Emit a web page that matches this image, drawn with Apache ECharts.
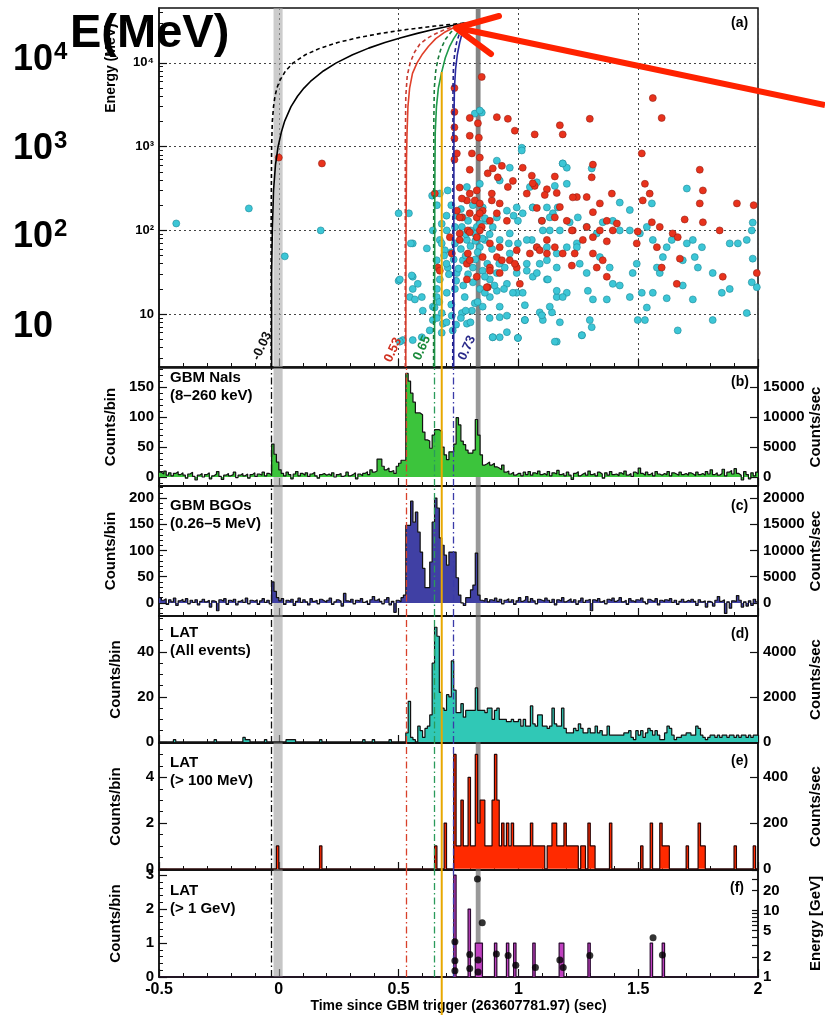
<!DOCTYPE html>
<html>
<head>
<meta charset="utf-8">
<script src="https://cdn.jsdelivr.net/npm/echarts@6/dist/echarts.min.js"></script>
<style>
html,body{margin:0;padding:0;background:#fff;}
#fig{width:825px;height:1015px;}
</style>
</head>
<body>
<div id="fig"></div>
<script>
// ---- data ----
var binStart = -0.5, binWidth = 0.01;   // 0.01 s bins, -0.5 .. 2.0

// GBM NaI counts/bin
var nai = [
  8, 5, 10, 3, 7, 2, 6, 9, 4, 7,        // -0.5
  3, -2, 5, 8, 1, -5, 3, 6, 0, 4,       // -0.4
  7, -3, 2, 5, 9, 1, -4, 3, 6, 2,       // -0.3
  4, 8, -1, 3, 6, 2, 5, -2, 4, 7,       // -0.2
  1, 5, 3, 8, 2, 6, 4, 55, 38, 25,      // -0.1
  12, 6, 2, 8, 4, -3, 5, 9, 2, 6,       // 0.0
  3, 7, 1, 5, 8, 2, -2, 4, 6, 3,        // 0.1
  5, 2, 7, 0, 4, 6, 1, 3, 8, 2,         // 0.2
  4, 7, -3, 5, 2, 6, 9, 4, 12, 8,       // 0.3
  10, 30, 30, 18, 12, 15, 9, 11, 6, 18, // 0.4
  23, 28, 28, 173, 160, 140, 125, 107, 107, 104, // 0.5
  75, 62, 60, 48, 70, 79, 79, 76, 50, 37,        // 0.6
  29, 42, 42, 55, 99, 87, 60, 54, 45, 40,        // 0.7
  40, 45, 96, 70, 37, 20, 22, 25, 20, 23,        // 0.8
  17, 15, 12, 20, 8, 10, 5, 8, 3, 6,    // 0.9
  6, 2, 8, 4, 9, 3, 7, 5, 10, 4,        // 1.0
  6, 3, 9, 2, 7, 5, 11, 4, 6, 2,        // 1.1
  8, 3, -4, 6, 9, 2, 5, 7, 3, 10,       // 1.2
  4, 6, 2, 8, 5, -2, 7, 3, 9, 4,        // 1.3
  5, 2, 7, 4, 10, 3, 6, 1, 8, 5,        // 1.4
  15, 6, 3, 8, 4, 7, 2, 9, 5, 3,        // 1.5
  6, 4, 9, 2, 7, 5, 3, 8, 4, 6,         // 1.6
  3, 7, 5, 2, 8, 4, 6, 3, 9, 5,         // 1.7
  12, 4, 7, 3, 6, 13, 2, 8, 11, 5,      // 1.8
  14, 6, 3, -5, 9, 4, -3, 7, 2, 8       // 1.9
];

// GBM BGO counts/bin
var bgo = [
  10, 5, 8, -3, 6, 2, 9, -5, 4, 7,      // -0.5
  3, 8, -2, 5, 1, 6, -4, 3, 7, 2,       // -0.4
  5, -8, 4, 2, -15, 6, 3, 8, -3, 5,     // -0.3
  2, 7, -4, 3, 6, 1, 9, -2, 5, 3,       // -0.2
  6, -3, 4, 8, 1, 5, -2, 40, 22, 10,    // -0.1
  4, 8, -3, 5, 2, 7, -5, 3, 9, 1,       // 0.0
  6, 2, -4, 8, 3, 5, -2, 7, 4, 1,       // 0.1
  5, 9, -3, 2, 6, 3, -6, 18, 4, 2,      // 0.2
  7, -2, 5, 3, 8, 1, 4, -3, 6, 12,      // 0.3
  5, 8, 3, -2, 6, 10, -4, 3, -18, 5,    // 0.4
  2, 10, 15, 148, 148, 194, 154, 173, 135, 97,   // 0.5
  66, 29, 29, 78, 154, 200, 181, 124, 110, 91,   // 0.6
  72, 97, 97, 97, 48, 15, 0, -5, 10, 10,         // 0.7
  25, 34, 95, 15, 5, 3, 8, 2, 6, 4,     // 0.8
  9, 3, 7, -2, 5, 8, 2, 6, -3, 4,       // 0.9
  10, 3, 6, 12, 2, 8, 4, -2, 7, 5,      // 1.0
  3, 9, 5, 1, 7, -4, 6, 3, 10, 2,       // 1.1
  5, 8, 2, 6, -3, 4, 9, 1, 5, 7,        // 1.2
  -15, 6, 3, 8, 2, 5, -2, 7, 4, 9,      // 1.3
  3, 6, 10, 2, 5, -3, 8, 4, 1, 6,       // 1.4
  5, 9, 2, -2, 7, 4, 3, 8, -4, 5,       // 1.5
  2, 6, 4, 8, 1, 5, -3, 3, 7, 2,        // 1.6
  5, 2, 7, 3, -5, 6, 2, 4, -8, 3,       // 1.7
  1, -6, 5, 12, 3, 6, -20, 2, -10, 4,   // 1.8
  3, 14, 5, -8, 2, -6, 4, -5, 7, 2      // 1.9
];

// LAT all events counts/bin
var latAll = [
  0,0,0,0,0,0,1,0,0,0,   // -0.5
  0,0,0,0,0,0,0,0,0,0,   // -0.4
  0,0,0,1,0,0,0,0,0,0,   // -0.3
  0,0,0,0,0,2,1,1,0,0,   // -0.2
  0,0,0,0,1,0,0,0,0,0,   // -0.1
  0,0,0,1,1,1,1,0,0,0,   // 0.0
  0,0,0,0,0,0,0,1,0,0,   // 0.1
  0,0,0,0,0,0,0,0,0,0,   // 0.2
  0,0,0,0,0,1,0,0,0,1,   // 0.3
  0,0,0,0,0,0,1,0,0,0,   // 0.4
  0,0,0,4,18,2,1,0,7,5,  // 0.5
  2,6,7,12,35,51,47,22,15,14,   // 0.6
  21,20,36,23,13,13,17,11,14,14,// 0.7
  14,14,24,14,14,14,13,15,15,10,// 0.8
  14,15,10,10,10,9,9,10,9,9,    // 0.9
  10,7,10,7,7,16,8,7,12,12,     // 1.0
  7,7,6,7,15,8,7,7,15,6,        // 1.1
  4,4,4,6,5,8,6,4,4,6,          // 1.2
  4,4,7,4,5,3,3,7,3,3,          // 1.3
  3,3,3,3,4,4,5,2,1,5,          // 1.4
  3,5,2,4,6,5,3,5,3,1,          // 1.5
  1,4,7,6,3,1,2,2,3,3,          // 1.6
  4,4,3,3,7,6,3,2,1,2,          // 1.7
  3,3,2,3,2,3,3,2,3,3,          // 1.8
  2,3,2,3,3,2,3,2,3,3           // 1.9
];

// LAT > 100 MeV, non-empty bins [bin start (s), counts]
var lat100 = [
  [-0.01,1],[0.17,1],[0.65,1],[0.69,2],
  [0.73,5],[0.74,1],[0.75,1],[0.76,3],[0.77,1],[0.78,1],[0.79,4],
  [0.80,1],[0.81,1],[0.82,5],[0.83,2],[0.84,3],[0.85,3],[0.86,1],[0.87,1],[0.88,1],[0.89,3],
  [0.90,5],[0.91,3],[0.92,1],[0.93,2],[0.94,1],[0.95,2],[0.96,1],[0.97,2],[0.98,1],[0.99,1],
  [1.00,1],[1.01,1],[1.02,1],[1.03,1],[1.04,1],[1.05,2],[1.06,1],[1.07,1],[1.08,1],[1.09,1],
  [1.10,1],[1.12,1],[1.13,1],[1.14,2],[1.15,2],[1.16,1],[1.17,1],[1.18,1],[1.19,2],
  [1.20,1],[1.21,1],[1.22,1],[1.23,1],[1.24,1],[1.26,1],[1.27,1],[1.29,2],
  [1.30,1],[1.31,1],[1.38,2],[1.51,1],[1.55,2],[1.59,2],[1.60,1],[1.61,1],[1.62,1],
  [1.70,1],[1.75,2],[1.76,1],[1.77,1],[1.90,1],[1.98,1]
];

// LAT > 1 GeV, non-empty bins [bin start (s), counts]
var lat1g = [
  [0.73,3],[0.79,2],[0.82,1],[0.83,1],[0.84,1],[0.90,1],[0.95,1],[0.98,1],
  [1.06,1],[1.17,1],[1.18,1],[1.29,1],[1.55,1],[1.60,1]
];

// > 1 GeV photon energies [t (s), E (GeV)]
var gevPhotons = [
  [0.735,3.4],[0.735,1.76],[0.735,1.24],[0.797,2.18],[0.797,1.34],[0.829,30],[0.849,6.6],
  [0.832,1.8],[0.832,1.19],[0.908,2.23],[0.957,2.1],[0.989,1.5],[1.071,1.39],[1.173,1.8],
  [1.187,1.39],[1.298,2.1],[1.562,3.9],[1.601,2.15]
];

// LAT events [t (s), E (MeV)] - panel (a)
var cyanEvents = [
  [-0.428,121],[-0.125,183],[0.025,49],[0.175,100],[0.5,160],[0.559,70],[0.5,25],[0.559,28],[0.559,20],[0.518,4.9],
  [0.847,2550],[0.818,2480],[1.014,970],[1.185,630],[1.306,550],[1.703,316],[1.557,210],[1.465,175],[1.423,215],[1.978,124],
  [1.974,100],[1.882,70],[1.916,70],[1.953,77],[1.978,46],[1.995,21],[1.974,24],[1.953,10.3],[1.811,8.5],[1.849,18],
  [1.882,20],[1.811,31],[1.703,70],[1.736,48],[1.749,36],[1.686,22],[1.728,15],[1.665,6.4],[1.619,15.5],[1.561,18],
  [1.603,48],[1.619,63],[1.59,31],[1.536,12],[1.498,8.5],[1.465,16],[1.477,31],[1.494,40],[1.507,92],[1.465,100],
  [1.423,100],[1.394,130],[1.352,125],[1.327,92],[1.285,110],[1.34,48],[1.381,36],[1.394,23],[1.423,22],[1.369,15],
  [1.311,15],[1.298,8.5],[1.306,7],[1.265,5.6],[1.29,19],[1.285,31],[1.256,40],[1.244,70],[1.202,63],[1.173,100],
  [1.131,100],[1.102,100],[1.144,160],[1.119,188],[1.06,188],[1.048,330],[0.993,188],[0.998,130],[1.056,77],[1.119,63],
  [1.089,40],[1.16,36],[1.119,26],[1.16,16],[1.202,18],[1.14,10.5],[1.173,8],[1.16,4.7],[1.089,10.5],[1.102,8.5],
  [1.027,8.5],[0.998,5.2],[0.952,6.1],[0.993,18],[1.027,12.8],[0.922,9.2],[0.893,5.3],[0.91,19],[0.952,23],[1.06,28],
  [1.035,40],[0.964,53],[1.202,560],[1.152,340],[1.077,375],[1.686,44],[1.728,77],[1.766,63],[1.64,77],[1.561,77],
  [1.536,110],[1.578,36],[1.515,18],[1.528,8.5],[0.922,5.3],[0.839,2700],[0.543,160],[0.551,70],[0.505,26],[0.555,29],
  [0.618,61],[0.58,23],[0.597,16],[0.547,16],[0.643,100],[0.672,77],[0.659,44],[0.693,58],[0.735,70],[0.764,110],
  [0.785,77],[0.818,92],[0.839,63],[0.86,77],[0.893,110],[0.922,77],[0.964,92],[0.998,70],[1.035,77],[1.077,63],
  [0.705,36],[0.743,31],[0.768,44],[0.81,36],[0.851,33],[0.881,26],[0.91,31],[0.943,36],[0.993,31],[1.035,33],
  [0.672,26],[0.701,18],[0.735,20],[0.776,16],[0.818,13.5],[0.851,12.3],[0.922,12.3],[0.881,16],[0.659,16],[0.643,12.3],
  [0.68,10.3],[0.722,9.6],[0.764,10.3],[0.806,11],[0.643,8.5],[0.685,7.7],[0.726,6.4],[0.785,7.7],[0.63,6.4],[0.601,11],
  [0.568,15],[0.826,110],[0.868,130],[0.91,143],[0.768,143],[0.735,110],[0.701,100],[0.672,276],[0.705,300],[0.785,330],
  [0.839,360],[0.91,680],[0.964,560],[1.014,900],[0.922,394],[0.851,188],[0.952,172],[1.018,160],[1.06,188],[1.098,130],
  [1.131,143],[1.164,188],[1.185,630],[1.202,360],[1.214,125],[1.248,143],[1.244,63],[1.16,53],[1.119,44],[1.077,31],
  [1.123,26],[1.16,19],[1.018,18],[0.977,18],[0.952,9.6],[1.027,8.5],[1.098,9.7],[1.131,12.3],[1.185,16],[0.998,5.2],
  [0.893,5.3],[1.152,4.7],[1.265,5.6],[0.597,5.3],[0.559,4.9],[0.505,4.7],
  [0.69,50],[0.70,40],[0.71,30],[0.72,55],[0.73,45],[0.74,25],[0.75,35],[0.76,60],[0.77,22],[0.78,50],
  [0.79,30],[0.80,65],[0.81,24],[0.82,45],[0.83,55],[0.84,20],[0.85,80],[0.86,28],[0.87,40],[0.88,90],
  [0.89,60],[0.68,70],[0.67,35],[0.66,20],[0.65,12],[0.66,9],[0.67,14],[0.68,6],[0.70,8],[0.72,13],
  [0.74,7.5],[0.76,9],[0.78,11],[0.80,8],[0.83,14],[0.86,18],[0.88,9],[0.90,22],[0.92,40],[0.94,20],
  [0.96,70],[0.98,150],[0.74,150],[0.76,180],[0.79,130],[0.81,200],[0.84,120],[0.86,140],[0.72,200],[0.70,150],
  [0.68,120],[0.66,200],[0.64,260],[0.78,90],[0.80,100],[0.82,75]
];
var redEvents = [
  [0.0,740],[0.18,630],
  [0.847,6800],[1.561,3800],[1.598,2200],[0.797,2200],[0.91,2250],[0.956,2150],[0.831,1900],[0.985,1550],
  [1.068,1400],[1.173,1800],[1.185,1400],[1.298,2150],[0.797,1350],[0.835,1280],[1.515,830],[0.806,830],[0.839,740],[0.797,530],
  [1.311,610],[1.018,560],[1.056,450],[1.152,440],[1.757,530],[0.893,550],[0.931,590],[0.977,390],[1.068,340],[1.306,430],
  [1.528,360],[1.548,275],[1.77,300],[1.035,275],[1.119,310],[1.16,280],[1.244,250],[1.285,250],[1.34,210],[1.39,275],
  [1.519,228],[1.757,210],[1.912,210],[1.982,200],[1.311,165],[1.077,185],[1.173,190],[1.098,130],[1.152,143],[1.202,130],
  [1.369,130],[1.411,121],[1.557,125],[1.59,110],[1.694,135],[1.77,125],[1.227,100],[1.34,100],[1.394,100],[1.498,97],
  [1.644,92],[1.84,100],[1.269,77],[1.311,83],[1.369,74],[1.494,70],[1.077,63],[1.089,58],[1.578,63],[1.665,83],
  [1.119,53],[1.235,53],[1.311,53],[1.352,44],[1.674,46],[0.993,36],[1.223,38],[1.327,36],[1.598,36],[1.369,28],
  [1.853,28],[1.661,23],[1.995,31],[0.872,21],
  [0.755,325],[0.785,228],[0.818,228],[0.743,172],[0.764,143],[0.797,160],[0.826,143],[0.851,172],[0.889,228],[0.922,210],
  [0.91,160],[0.952,130],[0.847,110],[0.789,100],[0.755,92],[0.714,83],[0.826,83],[0.881,70],[0.922,63],[0.789,53],
  [0.851,48],[0.91,48],[0.964,44],[0.785,40],[0.881,36],[0.664,36],[0.826,28],[0.868,21],[0.922,31],[0.985,40],
  [1.006,23],[0.743,830],[0.872,480],[0.914,430],[0.956,330],[1.06,365],[1.11,265],[0.764,240],[0.797,275],[0.826,300],
  [0.889,275],[0.839,210],[0.755,143],[0.839,160],[0.881,130],[0.755,77],[0.797,95],[0.839,100],[0.672,33],[0.722,53],
  [0.797,44],[0.785,26],[0.881,33],[0.931,44],[0.993,58],[1.048,53],[1.119,77],[1.152,63],[1.185,53],[1.285,110],
  [1.223,100],[1.227,248],[0.733,5000],[0.733,2600],[0.733,1700],[0.733,1250],[0.733,700],[0.651,276]
];

// dispersion curves [t (s), E (MeV)], linear (solid) and quadratic (dashed)
var curveBlackLin = [[-0.03,2.34],[-0.03,30],[-0.027,100],[-0.022,300],[-0.014,600],[-0.003,1000],[0.011,1500],[0.024,2000],[0.051,3000],[0.078,4000],[0.105,5000],[0.132,6000],[0.186,8000],[0.24,10000],[0.308,12500],[0.375,15000],[0.443,17500],[0.51,20000],[0.578,22500],[0.645,25000],[0.713,27500],[0.78,30000]];
var curveBlackQuad = [[-0.032,2.34],[-0.032,100],[-0.03,1000],[-0.027,2000],[-0.022,3000],[-0.016,4000],[-0.008,5000],[0.002,6000],[0.028,8000],[0.06,10000],[0.111,12500],[0.173,15000],[0.246,17500],[0.33,20000],[0.426,22500],[0.533,25000],[0.651,27500],[0.78,30000]];
var curveRedLin = [[0.53,2.34],[0.531,100],[0.533,700],[0.535,1400],[0.539,3000],[0.546,5000],[0.558,7500],[0.577,10000],[0.6,12800],[0.625,15800],[0.655,19500],[0.69,23000],[0.735,26800],[0.78,30000]];
var curveRedQuad = [[0.528,2.34],[0.528,1000],[0.53,4000],[0.536,7000],[0.548,10000],[0.567,13500],[0.589,16800],[0.617,19500],[0.65,22000],[0.69,24800],[0.735,27500],[0.78,30000]];
var curveGreenLin = [[0.65,2.34],[0.651,300],[0.653,1500],[0.658,3000],[0.666,5000],[0.68,7800],[0.695,11500],[0.712,15500],[0.73,19500],[0.755,25000],[0.78,30000]];
var curveGreenQuad = [[0.646,2.34],[0.647,2000],[0.649,5000],[0.655,8000],[0.664,11000],[0.676,14500],[0.695,19000],[0.72,23500],[0.748,27000],[0.78,30000]];
var curveBlueLin = [[0.73,2.34],[0.731,2000],[0.733,5000],[0.738,8500],[0.745,12500],[0.755,17500],[0.766,23000],[0.78,30000]];
var curveBlueQuad = [[0.726,2.34],[0.727,5000],[0.729,9000],[0.734,13000],[0.742,17500],[0.753,22000],[0.766,26500],[0.78,30000]];

// tick labels
var energyTicks = [10, 100, 1000, 10000];
var naiTicks = [0, 50, 100, 150], naiRateTicks = [0, 5000, 10000, 15000];
var bgoTicks = [0, 50, 100, 150, 200], bgoRateTicks = [0, 5000, 10000, 15000, 20000];
var allTicks = [0, 20, 40], allRateTicks = [0, 2000, 4000];
var e100Ticks = [0, 2, 4], e100RateTicks = [0, 200, 400];
var gevTicks = [0, 1, 2, 3], gevEnergyTicks = [1, 2, 5, 10, 20];

// trigger-time markers
var vlines = [
  {t: -0.03, c: '#111'}, {t: 0.53, c: '#d8402a'}, {t: 0.65, c: '#2a9a5a'}, {t: 0.73, c: '#3a3aa8'}
];

// ---- helpers ----
var FONT = 'Liberation Sans, Arial, Helvetica, sans-serif';
var nBins = 250;

function hist(vals) {
  var d = vals.map(function (v, i) { return [+(binStart + i * binWidth).toFixed(2), v]; });
  d.push([2, vals[vals.length - 1]]);
  return d;
}
function fromSparse(list) {
  var v = [];
  for (var i = 0; i < nBins; i++) v.push(0);
  list.forEach(function (p) { v[Math.round((p[0] - binStart) / binWidth)] = p[1]; });
  return v;
}
function range(a, b, s) {
  var r = [];
  for (var v = a; v <= b + 1e-9; v += s) r.push(+v.toFixed(3));
  return r;
}

var grids = [[8, 359], [368, 118], [486, 130], [616, 127], [743, 127], [870, 107]];

var axLine = {show: true, onZero: false, lineStyle: {color: '#111', width: 1.5}};
var lbl = {color: '#000', fontFamily: FONT, fontWeight: 'bold', fontSize: 15};

function linAxis(gi, pos, mn, mx, ticks, name, gap) {
  return {
    gridIndex: gi, type: 'value', position: pos, min: mn, max: mx,
    axisLine: axLine,
    axisTick: {show: true, inside: true, length: 8, customValues: ticks, lineStyle: {color: '#111', width: 1.2}},
    axisLabel: Object.assign({show: true, margin: 5, customValues: ticks,
      formatter: function (v) { return String(v); }}, lbl),
    splitLine: {show: false},
    name: name, nameLocation: 'middle', nameGap: gap, nameRotate: 90,
    nameMoveOverlap: pos === 'left',
    nameTextStyle: {color: '#000', fontFamily: FONT, fontWeight: 'bold', fontSize: 15}
  };
}
function minorAxis(gi, type, mn, mx, ticks) {
  return {
    gridIndex: gi, type: type, position: 'left', min: mn, max: mx,
    axisLine: {show: false, onZero: false}, axisLabel: {show: false}, splitLine: {show: false},
    axisTick: {show: true, inside: true, length: 4, customValues: ticks, lineStyle: {color: '#111', width: 1}}
  };
}

var supers = {1: '10', 2: '10²', 3: '10³', 4: '10⁴'};
var minorLog = [];
[1, 10, 100, 1000, 10000].forEach(function (d) {
  for (var k = 2; k <= 9; k++) if (d * k > 2.34 && d * k < 45200) minorLog.push(d * k);
});

var xAxes = grids.map(function (g, i) {
  return {
    gridIndex: i, type: 'value', min: -0.5, max: 2, interval: 0.5,
    axisLine: axLine,
    axisTick: {show: true, inside: true, length: 8, lineStyle: {color: '#111', width: 1.2}},
    minorTick: {show: true, splitNumber: 5, length: 4, lineStyle: {color: '#111', width: 1}},
    axisLabel: Object.assign({show: i === 5, margin: 5}, lbl, {fontSize: 16}),
    splitLine: {show: i === 0, lineStyle: {type: [2, 3], color: '#444', width: 1}},
    name: i === 5 ? 'Time since GBM trigger (263607781.97) (sec)' : '',
    nameLocation: 'middle', nameGap: 19,
    nameTextStyle: {color: '#000', fontFamily: FONT, fontWeight: 'bold', fontSize: 14}
  };
});

var yAxes = [
  // 0: panel a energy (log)
  {
    gridIndex: 0, type: 'log', logBase: 10, min: 2.34, max: 45200, position: 'left',
    axisLine: axLine,
    axisTick: {show: true, inside: true, length: 8, customValues: energyTicks, lineStyle: {color: '#111', width: 1.2}},
    axisLabel: Object.assign({show: true, margin: 5, customValues: energyTicks,
      formatter: function (v) { return supers[Math.round(Math.log10(v))]; }}, lbl, {fontSize: 13}),
    splitLine: {show: true, lineStyle: {type: [2, 3], color: '#444', width: 1}}
  },
  minorAxis(0, 'log', 2.34, 45200, minorLog),                                 // 1
  linAxis(1, 'left', -15, 182, naiTicks, 'Counts/bin', 36),                  // 2
  linAxis(1, 'right', -1500, 18200, naiRateTicks, 'Counts/sec', 50),         // 3
  minorAxis(1, 'value', -15, 182, range(-10, 180, 10)),                       // 4
  linAxis(2, 'left', -25, 223, bgoTicks, 'Counts/bin', 36),                  // 5
  linAxis(2, 'right', -2500, 22300, bgoRateTicks, 'Counts/sec', 50),         // 6
  minorAxis(2, 'value', -25, 223, range(-20, 220, 10)),                       // 7
  linAxis(3, 'left', -0.5, 56, allTicks, 'Counts/bin', 36),                  // 8
  linAxis(3, 'right', -50, 5600, allRateTicks, 'Counts/sec', 50),            // 9
  minorAxis(3, 'value', -0.5, 56, range(0, 55, 5)),                           // 10
  linAxis(4, 'left', -0.05, 5.5, e100Ticks, 'Counts/bin', 36),               // 11
  linAxis(4, 'right', -5, 550, e100RateTicks, 'Counts/sec', 50),             // 12
  minorAxis(4, 'value', -0.05, 5.5, range(0, 5.5, 0.5)),                      // 13
  linAxis(5, 'left', 0, 3.15, gevTicks, 'Counts/bin', 36),                   // 14
  {                                                                           // 15
    gridIndex: 5, type: 'log', logBase: 10, min: 1, max: 41, position: 'right',
    axisLine: axLine,
    axisTick: {show: true, inside: true, length: 6, customValues: [2, 3, 4, 5, 6, 7, 8, 9, 10, 20, 30, 40], lineStyle: {color: '#111', width: 1.2}},
    axisLabel: Object.assign({show: true, margin: 5, customValues: gevEnergyTicks,
      formatter: function (v) { return String(Math.round(v)); }}, lbl),
    splitLine: {show: false},
    name: 'Energy [GeV]', nameLocation: 'middle', nameGap: 50, nameRotate: 90, nameMoveOverlap: false,
    nameTextStyle: {color: '#000', fontFamily: FONT, fontWeight: 'bold', fontSize: 15}
  },
  minorAxis(5, 'value', 0, 3.15, range(0, 3, 0.2))                            // 16
];

function bands(light, dark) {
  return {
    silent: true,
    data: [
      [{xAxis: -0.022, itemStyle: {color: light}}, {xAxis: 0.016}],
      [{xAxis: 0.822, itemStyle: {color: dark}}, {xAxis: 0.842}]
    ]
  };
}
var dashLines = {
  symbol: ['none', 'none'], silent: true, label: {show: false},
  data: vlines.map(function (v) {
    return {xAxis: v.t, lineStyle: {color: v.c, type: [7, 3, 1.5, 3], width: 1.3}};
  })
};

function histSeries(xi, yi, vals, fill, edge) {
  return {
    type: 'line', xAxisIndex: xi, yAxisIndex: yi, data: hist(vals), step: 'end',
    symbol: 'none', lineStyle: {color: edge, width: 1.2}, areaStyle: {color: fill, opacity: 1},
    markLine: dashLines, markArea: bands('rgba(160,160,160,0.6)', 'rgba(110,110,110,0.7)'), z: 3
  };
}
function curve(pts, color, dashed) {
  return {
    type: 'line', xAxisIndex: 0, yAxisIndex: 0, data: pts, symbol: 'none', smooth: false,
    lineStyle: {color: color, width: 1.6, type: dashed ? [4, 3] : 'solid'}, z: 5
  };
}

var series = [
  {
    type: 'scatter', xAxisIndex: 0, yAxisIndex: 0, data: cyanEvents, symbolSize: 7,
    itemStyle: {color: '#3cc6d6', borderColor: '#1f8a98', borderWidth: 0.6, opacity: 1},
    markArea: bands('rgba(170,170,170,0.6)', 'rgba(100,100,100,0.8)'), z: 2
  },
  {
    type: 'scatter', xAxisIndex: 0, yAxisIndex: 0, data: redEvents, symbolSize: 7,
    itemStyle: {color: '#e8321c', borderColor: '#962014', borderWidth: 0.6, opacity: 1}, z: 3
  },
  curve(curveBlackLin, '#000', false), curve(curveBlackQuad, '#000', true),
  curve(curveRedLin, '#e0402a', false), curve(curveRedQuad, '#c83a30', true),
  curve(curveGreenLin, '#1f9a4a', false), curve(curveGreenQuad, '#1a7a3a', true),
  curve(curveBlueLin, '#2a2aa0', false), curve(curveBlueQuad, '#22228a', true),
  histSeries(1, 2, nai, '#3cc43c', '#111'),
  histSeries(2, 5, bgo, '#4040a4', '#111'),
  histSeries(3, 8, latAll, '#30c8b6', '#111'),
  histSeries(4, 11, fromSparse(lat100), '#ff2a00', '#2a0505'),
  histSeries(5, 14, fromSparse(lat1g), '#c040c0', '#2a0a30'),
  {
    type: 'scatter', xAxisIndex: 5, yAxisIndex: 15, data: gevPhotons, symbolSize: 7,
    itemStyle: {color: '#000'}, z: 6
  }
];

var chart = echarts.init(document.getElementById('fig'));
chart.setOption({
  animation: false,
  backgroundColor: '#fff',
  grid: grids.map(function (g) {
    return {left: 159, right: 67, top: g[0], height: g[1], show: true,
      containLabel: false, outerBoundsMode: 'none',
      borderColor: '#111', borderWidth: 1.5, backgroundColor: 'transparent'};
  }),
  xAxis: xAxes,
  yAxis: yAxes,
  series: series
});

// ---- annotations ----
function txt(x, y, s, o) {
  return {type: 'text', x: x, y: y, z: 100, silent: true,
    style: Object.assign({text: s, fill: '#000', fontFamily: FONT, fontWeight: 'bold', fontSize: 15,
      align: 'left', verticalAlign: 'top', lineHeight: 18}, o || {})};
}
function rot(x, y, s, color) {
  return {type: 'text', x: x, y: y, rotation: 65 * Math.PI / 180, z: 100, silent: true,
    style: {text: s, fill: color, fontFamily: FONT, fontWeight: 'bold', fontSize: 13,
      align: 'center', verticalAlign: 'middle'}};
}
var yellowX = chart.convertToPixel({xAxisIndex: 0}, 0.68);

chart.setOption({
  graphic: [
    {type: 'text', x: 111, y: 68, rotation: Math.PI / 2, z: 100, silent: true,
      style: {text: 'Energy (MeV)', fill: '#000', fontFamily: FONT, fontWeight: 'bold', fontSize: 14, align: 'center', verticalAlign: 'middle'}},
    txt(170, 369, 'GBM NaIs\n(8–260 keV)'),
    txt(170, 497, 'GBM BGOs\n(0.26–5 MeV)'),
    txt(170, 624, 'LAT\n(All events)'),
    txt(170, 754, 'LAT\n(> 100 MeV)'),
    txt(170, 882, 'LAT\n(> 1 GeV)'),
    txt(731, 14, '(a)', {fontSize: 14}),
    txt(731, 373, '(b)', {fontSize: 14}),
    txt(731, 497, '(c)', {fontSize: 14}),
    txt(731, 625, '(d)', {fontSize: 14}),
    txt(731, 752, '(e)', {fontSize: 14}),
    txt(730, 879, '(f)', {fontSize: 14}),
    rot(262, 346, '-0.03', '#111'),
    rot(393, 350, '0.53', '#d03020'),
    rot(422, 348, '0.65', '#1a8a3a'),
    rot(467, 348, '0.73', '#2a2a8a'),
    {type: 'line', z: 90, silent: true, shape: {x1: yellowX, y1: 72, x2: yellowX, y2: 1015},
      style: {stroke: '#e8a800', lineWidth: 2}},
    {type: 'polyline', z: 110, silent: true, shape: {points: [[825, 105], [458, 28]]},
      style: {stroke: '#ff2200', lineWidth: 6, fill: null}},
    {type: 'polyline', z: 110, silent: true, shape: {points: [[499, 16], [456, 28], [491, 54]]},
      style: {stroke: '#ff2200', lineWidth: 6, lineJoin: 'round', lineCap: 'round', fill: null}},
    txt(70, 34, 'E(MeV)', {fontSize: 47, verticalAlign: 'middle', lineHeight: 50}),
    txt(13, 60, '10', {fontSize: 36, verticalAlign: 'middle', lineHeight: 40}),
    txt(54, 52, '4', {fontSize: 24, verticalAlign: 'middle', lineHeight: 26}),
    txt(13, 149, '10', {fontSize: 36, verticalAlign: 'middle', lineHeight: 40}),
    txt(54, 141, '3', {fontSize: 24, verticalAlign: 'middle', lineHeight: 26}),
    txt(13, 237, '10', {fontSize: 36, verticalAlign: 'middle', lineHeight: 40}),
    txt(54, 229, '2', {fontSize: 24, verticalAlign: 'middle', lineHeight: 26}),
    txt(13, 327, '10', {fontSize: 36, verticalAlign: 'middle', lineHeight: 40})
  ]
});
</script>
</body>
</html>
